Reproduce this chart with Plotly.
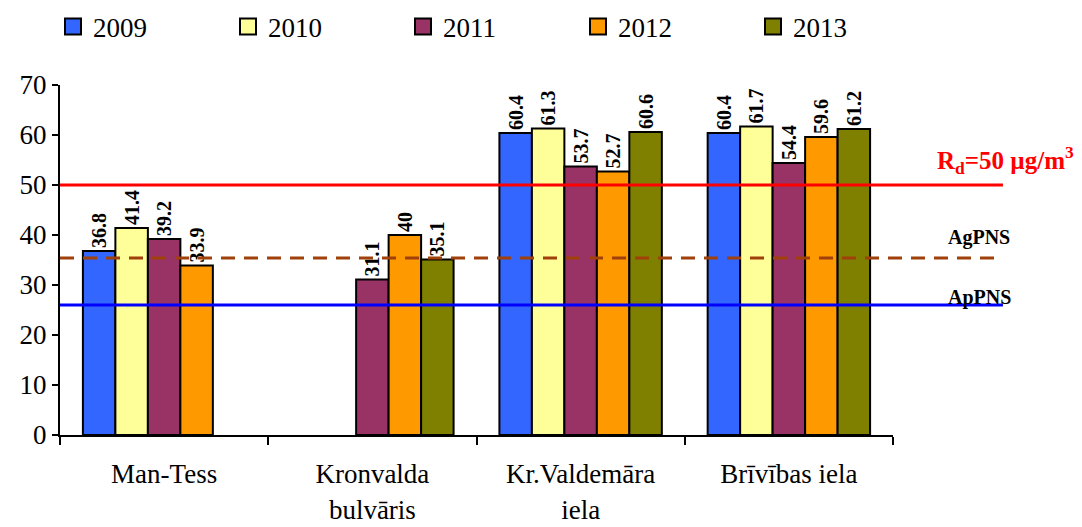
import plotly.graph_objects as go

categories = ["Man-Tess", "Kronvalda<br>bulvāris", "Kr.Valdemāra<br>iela", "Brīvības iela"]
years = ["2009", "2010", "2011", "2012", "2013"]
v2009 = [36.8, None, 60.4, 60.4]
v2010 = [41.4, None, 61.3, 61.7]
v2011 = [39.2, 31.1, 53.7, 54.4]
v2012 = [33.9, 40, 52.7, 59.6]
v2013 = [None, 35.1, 60.6, 61.2]
series = [v2009, v2010, v2011, v2012, v2013]
colors = ["#3366FF", "#FFFF99", "#993366", "#FF9900", "#808000"]

rd_value = 50
agpns_value = 35.4
appns_value = 26

FONT = "Liberation Serif, serif"

fig = go.Figure()
for name, vals, col in zip(years, series, colors):
    fig.add_trace(go.Bar(
        name=name, x=categories, y=vals, showlegend=False, legendgroup=name,
        marker=dict(color=col, line=dict(color="black", width=2)),
        text=[("" if v is None else (f"{v:g}")) for v in vals],
        textposition="outside", textangle=-90,
        textfont=dict(family=FONT, size=20, color="black", weight="bold"),
        constraintext="none",
        cliponaxis=False,
    ))
for i, (name, col) in enumerate(zip(years, colors)):
    fig.add_trace(go.Scatter(
        name=name, x=[None], y=[None], mode="markers", legendgroup=name,
        legend="legend" if i < 4 else "legend2",
        marker=dict(symbol="square", size=16, color=col, line=dict(color="black", width=2)),
    ))

lines = [(rd_value, "#FF0000", "solid"), (agpns_value, "#A0400A", "14px,9px"), (appns_value, "#0000FF", "solid")]
for yv, col, dash in lines:
    fig.add_shape(type="line", xref="paper", yref="y", x0=0, x1=1.132, y0=yv, y1=yv,
                  line=dict(color=col, width=3, dash=dash), layer="above")

fig.add_annotation(xref="paper", yref="y", x=1.051, y=55, xanchor="left", yanchor="middle",
                   text="<b>R<sub>d</sub>=50 µg/m<sup>3</sup></b>", showarrow=False,
                   font=dict(family=FONT, size=25, color="#FF0000"))
fig.add_annotation(xref="paper", yref="y", x=1.064, y=39.6, xanchor="left", yanchor="middle",
                   text="<b>AgPNS</b>", showarrow=False,
                   font=dict(family=FONT, size=20, color="black"))
fig.add_annotation(xref="paper", yref="y", x=1.064, y=27.6, xanchor="left", yanchor="middle",
                   text="<b>ApPNS</b>", showarrow=False,
                   font=dict(family=FONT, size=20, color="black"))

legend_common = dict(orientation="h", xref="container", y=1 - 19 / 519,
                     yref="container", yanchor="middle", xanchor="left",
                     font=dict(family=FONT, size=27, color="black"),
                     entrywidth=130, entrywidthmode="pixels", itemwidth=30,
                     traceorder="normal", bgcolor="rgba(0,0,0,0)")

fig.update_layout(
    width=1074, height=519,
    margin=dict(l=52, r=189, t=77, b=92, autoexpand=False),
    plot_bgcolor="white", paper_bgcolor="white",
    barmode="group", bargap=0.22, bargroupgap=0,
    font=dict(family=FONT, size=27, color="black"),
    legend=dict(x=45 / 1074, **legend_common),
    legend2=dict(x=(45 + 700) / 1074, **legend_common),
    xaxis=dict(showline=True, linecolor="black", linewidth=2, ticks="outside",
               tickson="boundaries", ticklen=8, tickwidth=2, tickcolor="black",
               ticklabelstandoff=14,
               tickfont=dict(family=FONT, size=27, color="black"), showgrid=False),
    yaxis=dict(range=[0, 70], dtick=10, showline=True, linecolor="black", linewidth=2,
               ticks="outside", ticklen=6, tickwidth=2, tickcolor="black",
               tickfont=dict(family=FONT, size=27, color="black"), showgrid=False,
               zeroline=False),
)
fig.update_xaxes(automargin=False)
fig.update_yaxes(automargin=False)

fig.write_html("out.html")
